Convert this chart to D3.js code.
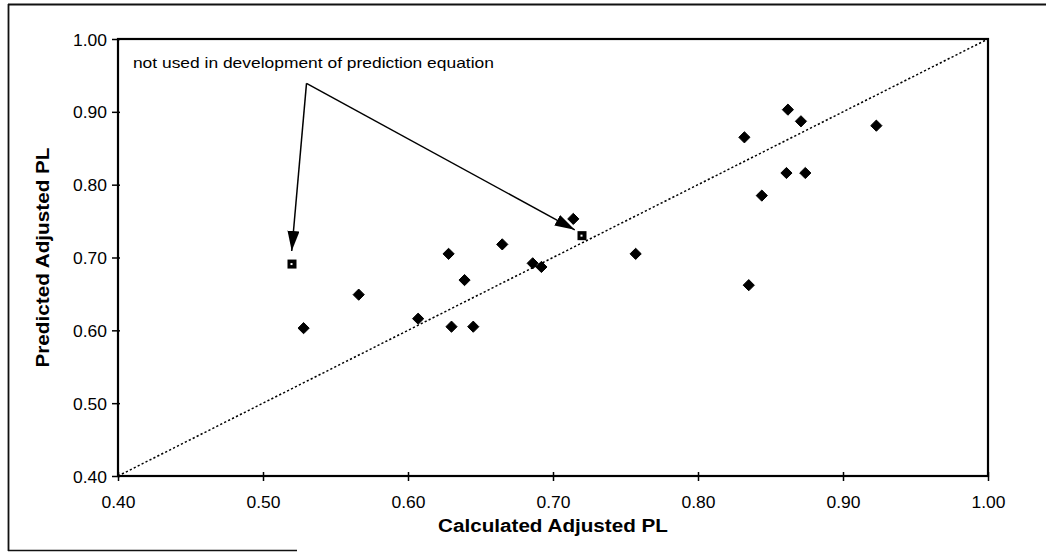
<!DOCTYPE html>
<html>
<head>
<meta charset="utf-8">
<script src="https://cdn.jsdelivr.net/npm/d3@7"></script>
<style>
  html, body { margin: 0; padding: 0; background: #fff; }
  svg { display: block; }
  text { font-family: "Liberation Sans", Arial, sans-serif; fill: #000; }
</style>
</head>
<body>
<svg id="chart" width="1046" height="552"></svg>
<script>
// Calculated vs. predicted adjusted PL for each test
const calculatedPL = [0.528, 0.566, 0.607, 0.628, 0.630, 0.639, 0.645, 0.665, 0.686, 0.692,
                      0.714, 0.757, 0.832, 0.835, 0.844, 0.861, 0.862, 0.871, 0.874, 0.923];
const predictedPL  = [0.603, 0.649, 0.616, 0.705, 0.605, 0.669, 0.605, 0.718, 0.692, 0.687,
                      0.753, 0.705, 0.865, 0.662, 0.785, 0.816, 0.903, 0.887, 0.816, 0.881];

// Tests left out when fitting the prediction equation
const excludedCalculated = [0.520, 0.720];
const excludedPredicted  = [0.691, 0.730];

// Axis ticks (both axes share them)
const tickValues = [0.40, 0.50, 0.60, 0.70, 0.80, 0.90, 1.00];

// Callout: text, elbow of the leader and the two arrow tips (data units)
const noteText = "not used in development of prediction equation";
const noteAnchor = [0.4103, 0.960];
const noteElbow = [0.530, 0.939];
const noteTips = [[0.5198, 0.709], [0.715, 0.738]];

const svg = d3.select("#chart");
const plot = { left: 118, right: 988, top: 39, bottom: 476 };

const x = d3.scaleLinear().domain([0.4, 1.0]).range([plot.left, plot.right]);
const y = d3.scaleLinear().domain([0.4, 1.0]).range([plot.bottom, plot.top]);

// Outer frame (top, left and partial bottom rule)
const frame = svg.append("g").attr("stroke", "#111").attr("fill", "none");
frame.append("line").attr("x1", 8).attr("x2", 1046).attr("y1", 4.5).attr("y2", 4.5).attr("stroke-width", 2);
frame.append("line").attr("x1", 8.5).attr("x2", 8.5).attr("y1", 4).attr("y2", 551).attr("stroke-width", 1.8);
frame.append("line").attr("x1", 8).attr("x2", 297).attr("y1", 550.5).attr("y2", 550.5).attr("stroke-width", 1.5);

// Line of equality
svg.append("line")
  .attr("x1", x(0.4)).attr("y1", y(0.4))
  .attr("x2", x(1.0)).attr("y2", y(1.0))
  .attr("stroke", "#000").attr("stroke-width", 1.5)
  .attr("stroke-dasharray", "2.2,2.2");

// Plot box
svg.append("rect")
  .attr("x", plot.left).attr("y", plot.top)
  .attr("width", plot.right - plot.left).attr("height", plot.bottom - plot.top)
  .attr("fill", "none").attr("stroke", "#000").attr("stroke-width", 2.2);

// Axes
const xAxis = d3.axisBottom(x).tickValues(tickValues).tickFormat(d3.format(".2f")).tickSize(0);
const yAxis = d3.axisLeft(y).tickValues(tickValues).tickFormat(d3.format(".2f")).tickSize(0);

const gx = svg.append("g").attr("transform", `translate(0,${plot.bottom})`).call(xAxis);
gx.select(".domain").remove();
gx.selectAll(".tick line").attr("y1", -4).attr("y2", 5).attr("stroke", "#000").attr("stroke-width", 1.5);
gx.selectAll(".tick text")
  .attr("y", 32).attr("dy", null)
  .attr("textLength", 34).attr("lengthAdjust", "spacingAndGlyphs")
  .style("font-size", "17px").style("font-family", "'Liberation Sans', Arial, sans-serif")
  .attr("fill", "#000");

const gy = svg.append("g").attr("transform", `translate(${plot.left},0)`).call(yAxis);
gy.select(".domain").remove();
gy.selectAll(".tick line").attr("x1", -6).attr("x2", 2).attr("stroke", "#000").attr("stroke-width", 1.5);
gy.selectAll(".tick text")
  .attr("x", -11).attr("dy", "0.36em")
  .attr("textLength", 34).attr("lengthAdjust", "spacingAndGlyphs")
  .style("font-size", "17px").style("font-family", "'Liberation Sans', Arial, sans-serif")
  .attr("fill", "#000");

// Axis titles
svg.append("text")
  .attr("x", (plot.left + plot.right) / 2).attr("y", 532)
  .attr("text-anchor", "middle")
  .attr("textLength", 230).attr("lengthAdjust", "spacingAndGlyphs")
  .style("font-size", "18px").style("font-weight", "bold")
  .text("Calculated Adjusted PL");

svg.append("text")
  .attr("transform", `translate(49,${(plot.top + plot.bottom) / 2}) rotate(-90)`)
  .attr("text-anchor", "middle")
  .attr("textLength", 220).attr("lengthAdjust", "spacingAndGlyphs")
  .style("font-size", "18px").style("font-weight", "bold")
  .text("Predicted Adjusted PL");

// Diamond markers for the tests used in the fit
const diamond = d3.symbol().type(d3.symbolDiamond2).size(80);
svg.append("g").selectAll("path")
  .data(calculatedPL.map((c, i) => [c, predictedPL[i]]))
  .join("path")
  .attr("transform", d => `translate(${x(d[0])},${y(d[1])})`)
  .attr("d", diamond)
  .attr("fill", "#000")
  .attr("stroke", "#000").attr("stroke-width", 1).attr("stroke-linejoin", "round");

// Square markers for the excluded tests
const sq = svg.append("g").selectAll("g")
  .data(excludedCalculated.map((c, i) => [c, excludedPredicted[i]]))
  .join("g")
  .attr("transform", d => `translate(${x(d[0])},${y(d[1])})`);
sq.append("rect").attr("x", -4.5).attr("y", -4.5).attr("width", 9).attr("height", 9).attr("fill", "#000");
sq.append("rect").attr("x", -1.5).attr("y", -1).attr("width", 2).attr("height", 2).attr("fill", "#fff");

// Callout text
svg.append("text")
  .attr("x", x(noteAnchor[0])).attr("y", y(noteAnchor[1]))
  .attr("textLength", 361).attr("lengthAdjust", "spacingAndGlyphs")
  .style("font-size", "14.5px")
  .text(noteText);

// Leader lines with filled arrowheads
svg.append("defs").append("marker")
  .attr("id", "head")
  .attr("viewBox", "0 0 20 12")
  .attr("refX", 20).attr("refY", 6)
  .attr("markerWidth", 20).attr("markerHeight", 12)
  .attr("markerUnits", "userSpaceOnUse")
  .attr("orient", "auto")
  .append("path").attr("d", "M0,0 L20,6 L0,12 Z").attr("fill", "#000");

noteTips.forEach(t => {
  svg.append("line")
    .attr("x1", x(noteElbow[0])).attr("y1", y(noteElbow[1]))
    .attr("x2", x(t[0])).attr("y2", y(t[1]))
    .attr("stroke", "#000").attr("stroke-width", 1.5)
    .attr("marker-end", "url(#head)");
});
</script>
</body>
</html>
